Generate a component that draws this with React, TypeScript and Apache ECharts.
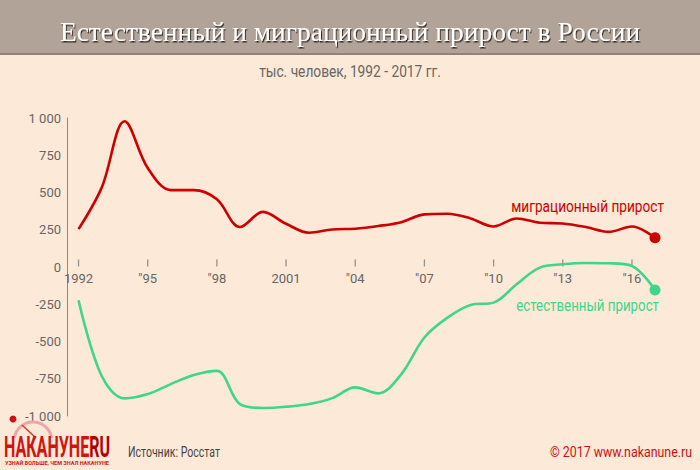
import React, { useEffect, useRef } from "react";
import * as echarts from "echarts";

const years = [1992, 1993, 1994, 1995, 1996, 1997, 1998, 1999, 2000, 2001, 2002, 2003, 2004, 2005, 2006, 2007, 2008, 2009, 2010, 2011, 2012, 2013, 2014, 2015, 2016, 2017];
const migration = [254, 531, 978, 665, 516, 516, 455, 268, 370, 290, 230, 252, 257, 275, 301, 353, 357, 326, 272, 326, 297, 292, 268, 236, 272, 196];
const natural = [-223, -730, -882, -853, -786, -725, -697, -920, -946, -938, -920, -880, -808, -848, -719, -473, -340, -255, -239, -116, -4, 18, 27, 25, 7, -154];
const tickYears = [1992, 1995, 1998, 2001, 2004, 2007, 2010, 2013, 2016];

const title = "Естественный и миграционный прирост в России";
const subtitle = "тыс. человек, 1992 - 2017 гг.";
const migLabel = "миграционный прирост";
const natLabel = "естественный прирост";
const source = "Источник: Росстат";
const copyright = "© 2017 www.nakanune.ru";
const logoMain = "НАКАНУНЕ";
const logoRu = "RU";
const tagline = "УЗНАЙ БОЛЬШЕ, ЧЕМ ЗНАЛ НАКАНУНЕ";

const SANS = "Roboto, sans-serif";
const RED = "#cc0000";
const GREEN = "#3fd68c";
const BG = "#fde9d8";

let measureCtx: CanvasRenderingContext2D | null = null;
function textWidth(text: string, font: string): number {
  if (!measureCtx) measureCtx = document.createElement("canvas").getContext("2d");
  if (!measureCtx) return text.length * 8;
  measureCtx.font = font;
  return measureCtx.measureText(text).width;
}
function fitScale(text: string, font: string, target: number): number {
  const w = textWidth(text, font);
  return w > 0 ? target / w : 1;
}

function fmtYear(v: number): string {
  if (v === 1992 || v === 2001) return String(v);
  return '"' + String(v).slice(2);
}
function fmtY(v: number): string {
  if (Math.abs(v) === 1000) return (v < 0 ? "-" : "") + "1 000";
  return String(v);
}

export default function App() {
  const ref = useRef<HTMLDivElement>(null);
  useEffect(() => {
    if (!ref.current) return;
    const chart = echarts.init(ref.current, null, { renderer: "svg" });
    const last = years.length - 1;

    const gridTop = 118;
    const gridBottom = 54;
    const plotH = 470 - gridTop - gridBottom;
    const zeroOffset = -plotH / 2; // labels sit under the zero line (range is symmetric)

    const fSub = "16px " + SANS;
    const fLab = "17px " + SANS;
    const fFoot = "15px " + SANS;
    const fLogo = "bold 30px " + SANS;
    const fTag = "bold 6px " + SANS;
    const logoTotal = 106;
    const wMain = textWidth(logoMain, fLogo);
    const wRu = textWidth(logoRu, fLogo);
    const logoScale = logoTotal / (wMain + wRu);

    const condText = (x: number, y: number, text: string, font: string, fill: string, align: string, target: number) => ({
      type: "text",
      x,
      y,
      scaleX: fitScale(text, font, target),
      style: { text, fill, font, align, verticalAlign: "middle" },
      z: 5,
    });

    const option: any = {
      animation: false,
      backgroundColor: BG,
      grid: { left: 67, right: 45, top: gridTop, bottom: gridBottom, containLabel: false },
      xAxis: {
        type: "value",
        min: 1991.5,
        max: 2017,
        position: "bottom",
        offset: zeroOffset,
        axisLine: { show: false, onZero: false },
        axisTick: { show: false },
        axisLabel: {
          show: true,
          customValues: tickYears,
          formatter: (v: number) => fmtYear(v),
          color: "#666",
          fontSize: 13,
          fontFamily: SANS,
          margin: 5,
        },
        splitLine: { show: false },
      },
      yAxis: {
        type: "value",
        min: -1000,
        max: 1000,
        interval: 250,
        axisLine: { show: true, onZero: false, lineStyle: { color: "#888", width: 1 } },
        axisTick: { show: false },
        axisLabel: {
          formatter: (v: number) => fmtY(v),
          color: "#666",
          fontSize: 13,
          fontFamily: SANS,
          margin: 6,
        },
        splitLine: { show: false },
      },
      series: [
        {
          type: "scatter",
          data: tickYears.map((y) => [y, 0]),
          symbol: "rect",
          symbolSize: [1.3, 7],
          symbolOffset: [0, -4],
          itemStyle: { color: "#7a7a7a" },
          silent: true,
          clip: false,
          z: 2,
        },
        {
          type: "line",
          data: years.map((y, i) => [y, migration[i]]),
          smooth: 0.35,
          symbol: "circle",
          symbolSize: (_v: any, p: any) => (p.dataIndex === last ? 11 : 0),
          itemStyle: { color: RED },
          lineStyle: { color: RED, width: 2.6 },
          clip: false,
          z: 3,
        },
        {
          type: "line",
          data: years.map((y, i) => [y, natural[i]]),
          smooth: 0.35,
          symbol: "circle",
          symbolSize: (_v: any, p: any) => (p.dataIndex === last ? 11 : 0),
          itemStyle: { color: GREEN },
          lineStyle: { color: GREEN, width: 2.6 },
          clip: false,
          z: 3,
        },
      ],
      graphic: [
        { type: "rect", shape: { x: 0, y: 0, width: 700, height: 54 }, style: { fill: "#b1a398" }, z: 1 },
        { type: "rect", shape: { x: 0, y: 53, width: 700, height: 2 }, style: { fill: "#8e847c" }, z: 1 },
        {
          type: "text",
          x: 350,
          y: 31,
          scaleX: fitScale(title, '28px "Liberation Serif", serif', 580),
          style: {
            text: title,
            fill: "#ffffff",
            font: '28px "Liberation Serif", "DejaVu Serif", serif',
            align: "center",
            verticalAlign: "middle",
            textShadowColor: "rgba(40,30,25,0.9)",
            textShadowOffsetX: 1,
            textShadowOffsetY: 1.5,
            textShadowBlur: 1,
          },
          z: 5,
        },
        condText(350, 72, subtitle, fSub, "#666", "center", 182),
        condText(664, 206, migLabel, fLab, RED, "right", 153),
        condText(659, 305, natLabel, fLab, GREEN, "right", 143),
        condText(128, 452, source, fFoot, "#444", "left", 92),
        condText(692, 452, copyright, fFoot, "#cc1111", "right", 142),
        // logo
        {
          type: "arc",
          shape: { cx: 33, cy: 441, r: 19, startAngle: Math.PI * 1.05, endAngle: Math.PI * 1.95 },
          style: { stroke: "#f2a4a4", lineWidth: 3, fill: "none" },
          z: 4,
        },
        {
          type: "line",
          shape: { x1: 22, y1: 425, x2: 36, y2: 438 },
          style: { stroke: "#d33", lineWidth: 1.5 },
          z: 4,
        },
        { type: "circle", shape: { cx: 13, cy: 419, r: 3.5 }, style: { fill: "#cc1111" }, z: 4 },
        {
          type: "text",
          x: 4,
          y: 447,
          scaleX: logoScale,
          style: { text: logoMain, fill: "#d01414", font: fLogo, align: "left", verticalAlign: "middle" },
          z: 5,
        },
        {
          type: "text",
          x: 4 + wMain * logoScale,
          y: 447,
          scaleX: logoScale,
          style: { text: logoRu, fill: "#b00000", font: fLogo, align: "left", verticalAlign: "middle" },
          z: 5,
        },
        condText(5, 463, tagline, fTag, "#d01414", "left", 104),
      ],
    };
    chart.setOption(option);
    return () => chart.dispose();
  }, []);
  return (
    <div
      ref={ref}
      style={{ position: "absolute", left: 0, top: 0, width: 700, height: 470, background: BG }}
    />
  );
}
